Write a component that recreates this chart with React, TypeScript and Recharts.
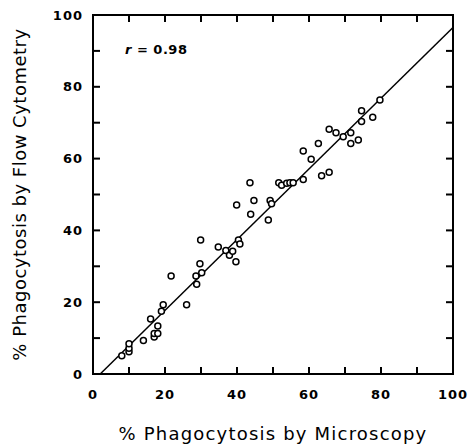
import { ScatterChart, Scatter, XAxis, YAxis, ReferenceArea } from 'recharts';

// % phagocytosis by microscopy (x) vs flow cytometry (y)
const microscopy = [
  8, 10, 10, 10, 14, 16, 17, 17, 18, 18, 19, 19.5, 21.7, 26, 28.6, 28.8, 30.2, 29.7, 29.9,
  34.8, 36.9, 37.9, 38.8, 39.7, 39.9, 40.4, 40.8, 43.8, 43.6, 44.7, 48.7, 49.2, 49.6,
  51.6, 52.4, 53.8, 54.7, 55.6, 58.4, 58.4, 60.6, 62.6, 63.5, 65.6, 65.6, 67.5, 69.5,
  71.6, 71.6, 73.7, 74.6, 74.6, 77.7, 79.7,
];
const cytometry = [
  5.1, 6.2, 7.2, 8.4, 9.3, 15.3, 10.3, 11.3, 11.3, 13.4, 17.5, 19.3, 27.3, 19.3, 27.3, 25, 28.2, 30.7, 37.3,
  35.4, 34.4, 33.1, 34.2, 31.3, 47.1, 37.3, 36.2, 44.5, 53.3, 48.3, 42.9, 48.3, 47.4,
  53.3, 52.6, 53.1, 53.3, 53.3, 54.2, 62.1, 59.8, 64.2, 55.2, 56.2, 68.2, 67.2, 66.1,
  67.2, 64.2, 65.2, 70.3, 73.3, 71.5, 76.3,
];
// regression line end points
const fitX = [2, 100];
const fitY = [0, 96.5];
const axisTicks = [0, 10, 20, 30, 40, 50, 60, 70, 80, 90, 100];

const points = microscopy.map((x, i) => ({ x, y: cytometry[i] }));
const fitLine = fitX.map((x, i) => ({ x, y: fitY[i] }));

// inward tick marks on all four sides of the frame
const inner = axisTicks.filter((t) => t > 0 && t < 100);
const bottomMarks = inner.map((t) => ({ x: t, y: 0 }));
const topMarks = inner.map((t) => ({ x: t, y: 100 }));
const leftMarks = inner.map((t) => ({ x: 0, y: t }));
const rightMarks = inner.map((t) => ({ x: 100, y: t }));
const TL = 7;
const TW = 2;

const font = '"DejaVu Sans", sans-serif';
const label = (v: number) => (v % 20 === 0 ? String(v) : '');
const textStyle = { fontFamily: font, fontSize: 13, fontWeight: 700, letterSpacing: 1 };

const BottomTick = (p: any) => (
  <text x={p.x} y={p.y} dy="0.71em" textAnchor="middle" fill="#000" style={textStyle}>
    {label(p.payload.value)}
  </text>
);
const LeftTick = (p: any) => (
  <text x={p.x} y={p.y} dy="0.355em" textAnchor="end" fill="#000" style={textStyle}>
    {label(p.payload.value)}
  </text>
);

// tick mark drawn as a thin filled rect going inward from the frame
function makeMark(dx: number, dy: number) {
  return function Mark(p: any) {
    const w = dx === 0 ? TW : Math.abs(dx);
    const h = dy === 0 ? TW : Math.abs(dy);
    const x = dx === 0 ? p.cx - TW / 2 : Math.min(p.cx, p.cx + dx);
    const y = dy === 0 ? p.cy - TW / 2 : Math.min(p.cy, p.cy + dy);
    return <rect x={x} y={y} width={w} height={h} fill="#000" />;
  };
}
const BottomMark = makeMark(0, -TL);
const TopMark = makeMark(0, TL);
const LeftMark = makeMark(TL, 0);
const RightMark = makeMark(-TL, 0);

const Ring = (props: any) => (
  <circle cx={props.cx} cy={props.cy} r={3} fill="#fff" stroke="#000" strokeWidth={1.5} />
);

export default function App() {
  return (
    <div style={{ position: 'absolute', left: 0, top: 0, width: 468, height: 446, background: '#fff' }}>
      <ScatterChart width={468} height={446} margin={{ top: 15, right: 15, bottom: 0, left: 0 }}>
        <XAxis
          dataKey="x"
          type="number"
          domain={[0, 100]}
          ticks={axisTicks}
          height={72}
          tickSize={0}
          tickMargin={16}
          tickLine={false}
          tick={BottomTick}
          axisLine={false}
          label={{
            value: '% Phagocytosis by Microscopy',
            position: 'insideBottom',
            offset: 6,
            style: { fontFamily: font, fontSize: 18, letterSpacing: 1.2, fill: '#000' },
          }}
        />
        <YAxis
          dataKey="y"
          type="number"
          domain={[0, 100]}
          ticks={axisTicks}
          width={93}
          tickSize={0}
          tickMargin={10}
          tickLine={false}
          tick={LeftTick}
          axisLine={false}
          label={{
            value: '% Phagocytosis by Flow Cytometry',
            angle: -90,
            position: 'insideLeft',
            offset: 20,
            style: { fontFamily: font, fontSize: 18, letterSpacing: 0.5, fill: '#000', textAnchor: 'middle' },
          }}
        />
        <ReferenceArea
          x1={0}
          x2={100}
          y1={0}
          y2={100}
          fill="none"
          stroke="#000"
          strokeWidth={2}
          ifOverflow="visible"
        />
        <Scatter data={bottomMarks} shape={BottomMark} isAnimationActive={false} />
        <Scatter data={topMarks} shape={TopMark} isAnimationActive={false} />
        <Scatter data={leftMarks} shape={LeftMark} isAnimationActive={false} />
        <Scatter data={rightMarks} shape={RightMark} isAnimationActive={false} />
        <Scatter
          data={fitLine}
          line={{ stroke: '#000', strokeWidth: 1.5 }}
          lineType="joint"
          shape={() => <g />}
          isAnimationActive={false}
        />
        <Scatter data={points} shape={Ring} isAnimationActive={false} />
      </ScatterChart>
      <div
        style={{
          position: 'absolute',
          left: 125,
          top: 42,
          fontFamily: font,
          fontSize: 13,
          fontWeight: 700,
          letterSpacing: 0.5,
          color: '#000',
        }}
      >
        <i>r</i> = 0.98
      </div>
    </div>
  );
}
